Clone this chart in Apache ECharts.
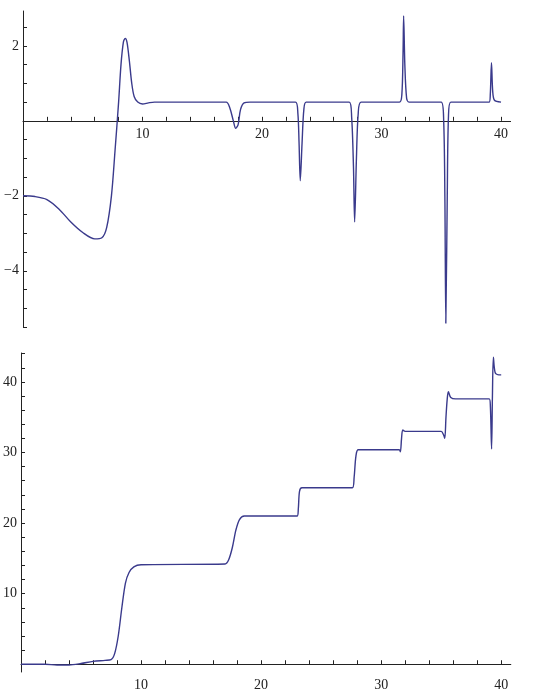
<!DOCTYPE html>
<html>
<head>
<meta charset="utf-8">
<script src="https://cdn.jsdelivr.net/npm/echarts@6/dist/echarts.min.js"></script>
<style>html,body{margin:0;padding:0;background:#fff}#main{width:540px;height:697px}</style>
</head>
<body>
<div id="main"></div>
<script>
// top panel: derivative-like curve with spikes
var topPoints = [
    [0,-2],[1,-2.02],[2,-2.1],[3,-2.35],[4,-2.7],[5,-2.98],[6,-3.15],[6.6,-3.12],[7,-2.85],[7.4,-2],
    [7.7,-0.8],[8,0.5],[8.2,1.5],[8.4,2.1],[8.55,2.2],[8.7,2.1],[8.9,1.6],[9.1,1.0],[9.3,0.65],[9.6,0.5],
    [10,0.45],[10.5,0.48],[11,0.5],[17,0.5],[17.3,0.35],[17.6,0.0],[17.8,-0.2],[18,-0.1],[18.2,0.3],[18.5,0.48],
    [19,0.5],[22.8,0.5],[23.0,0.2],[23.1,-0.6],[23.2,-1.6],[23.35,-0.6],[23.5,0.3],[23.7,0.5],[27.3,0.5],[27.5,0.1],
    [27.65,-1.2],[27.75,-2.7],[27.9,-1.0],[28.05,0.2],[28.3,0.5],[31.5,0.5],[31.7,0.7],[31.8,1.8],[31.85,2.8],[31.95,1.5],
    [32.1,0.6],[32.3,0.5],[35.0,0.5],[35.2,0.0],[35.3,-2],[35.38,-5.4],[35.5,-2],[35.6,0.1],[35.8,0.5],[39.0,0.5],
    [39.1,0.7],[39.2,1.55],[39.3,0.8],[39.45,0.55],[40,0.5]
];
// bottom panel: staircase curve
var bottomPoints = [
    [0,0],[2,0],[3,-0.1],[4,-0.1],[5,0.1],[6,0.4],[7,0.55],[7.5,0.65],[7.8,1.5],[8.1,4],
    [8.4,8],[8.7,11.5],[9,13],[9.4,13.8],[10,14.1],[17,14.2],[17.3,14.8],[17.6,16.5],[17.9,19],[18.2,20.5],
    [18.6,21],[23,21],[23.1,22],[23.2,24.5],[23.4,25],[27.6,25],[27.75,26.5],[27.9,29.5],[28.1,30.4],[31.5,30.4],
    [31.6,30.1],[31.7,32],[31.8,33.2],[32,33],[35,33],[35.2,32.5],[35.3,32],[35.4,35],[35.5,37.5],[35.6,38.6],
    [35.8,37.8],[36.2,37.6],[39,37.6],[39.1,36.5],[39.2,30.5],[39.27,38],[39.35,43.5],[39.5,41.3],[39.8,41],[40,41]
];
var xMajor = [10, 20, 30, 40];
var xTicks = [2,4,6,8,10,12,14,16,18,20,22,24,26,28,30,32,34,36,38,40];
var topYMajor = [-4, -2, 2];
var topYTicks = [-5.5,-5,-4.5,-4,-3.5,-3,-2.5,-2,-1.5,-1,-0.5,0.5,1,1.5,2,2.5];
var botYMajor = [10, 20, 30, 40];
var botYTicks = [2,4,6,8,10,12,14,16,18,20,22,24,26,28,30,32,34,36,38,40,42,44];

var lineColor = '#3a3a8c';
var font = {fontFamily: 'Liberation Serif', fontSize: 14, color: '#222',
    formatter: function (v) { return String(v).replace('-', '\u2212'); }};

function xAx(grid, labels) {
    return {
        type: 'value', gridIndex: grid, min: 0, max: 40.8,
        axisLine: {show: true, onZero: true, lineStyle: {color: '#222', width: 1}},
        splitLine: {show: false},
        axisTick: {show: true, inside: true, length: 4, customValues: xTicks, lineStyle: {color: '#222'}},
        axisLabel: labels ? Object.assign({show: true, customValues: xMajor, margin: 6}, font) : {show: false}
    };
}
function yAx(grid, min, max, ticks, labels) {
    return {
        type: 'value', gridIndex: grid, min: min, max: max,
        axisLine: {show: true, onZero: false, lineStyle: {color: '#222', width: 1}}, splitLine: {show: false},
        axisTick: {show: true, inside: true, length: 4, customValues: ticks, lineStyle: {color: '#222'}},
        axisLabel: Object.assign({show: true, customValues: labels, margin: 4}, font)
    };
}

var chart = echarts.init(document.getElementById('main'));
chart.setOption({
    animation: false,
    grid: [
        {left: 23, top: 11, width: 487.6, height: 316},
        {left: 20, top: 353, width: 490.8, height: 319},
        // label strip for the top panel: its bottom sits on y = 0
        {left: 23, top: 11, width: 487.6, height: 110}
    ],
    xAxis: [
        xAx(0, false), xAx(1, true),
        {type: 'value', gridIndex: 2, min: 0, max: 40.8, axisLine: {show: false}, axisTick: {show: false},
         splitLine: {show: false}, axisLabel: Object.assign({show: true, customValues: xMajor, margin: 6}, font)}
    ],
    yAxis: [
        yAx(0, -5.5, 2.93, topYTicks, topYMajor),
        yAx(1, -1.1, 44.1, botYTicks, botYMajor),
        {type: 'value', gridIndex: 2, show: false}
    ],
    series: [
        {type: 'line', xAxisIndex: 0, yAxisIndex: 0, data: topPoints, showSymbol: false, smooth: 0.3,
         lineStyle: {color: lineColor, width: 1.4}},
        {type: 'line', xAxisIndex: 1, yAxisIndex: 1, data: bottomPoints, showSymbol: false, smooth: 0.3,
         lineStyle: {color: lineColor, width: 1.4}}
    ]
});
</script>
</body>
</html>
